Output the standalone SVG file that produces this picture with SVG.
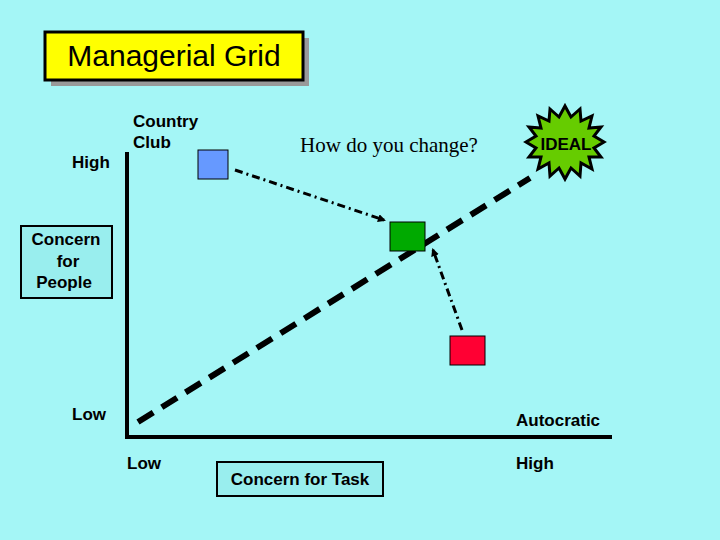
<svg xmlns="http://www.w3.org/2000/svg" width="720" height="540" viewBox="0 0 720 540">
<style>
.t{font-family:"Liberation Sans",Arial,sans-serif;font-weight:bold;font-size:17px;fill:#000}
.ar{stroke:#000;stroke-width:3;stroke-dasharray:8 4 2 4;fill:none;marker-end:url(#ah)}
</style>
<defs><marker id="ah" markerWidth="8" markerHeight="8" refX="6" refY="4" orient="auto" markerUnits="userSpaceOnUse"><path d="M0,0L8,4L0,8Z" fill="#000"/></marker></defs>
<rect width="720" height="540" fill="#a4f6f6"/>
<g id="title"><rect x="51" y="38" width="258" height="48" fill="#999"/><rect x="45" y="32" width="258" height="48" fill="#ffff00" stroke="#000" stroke-width="3"/><text x="174" y="66" text-anchor="middle" font-family="Liberation Sans,Arial,sans-serif" font-size="30">Managerial Grid</text></g>
<g id="axes" stroke="#000" stroke-width="4"><line x1="127" y1="152" x2="127" y2="439"/><line x1="125" y1="437" x2="612" y2="437"/></g>
<g id="labels">
<text class="t" x="72" y="168">High</text>
<text class="t" x="133" y="127">Country</text><text class="t" x="133" y="148">Club</text>
<text class="t" x="72" y="420">Low</text>
<text class="t" x="127" y="469">Low</text>
<text class="t" x="516" y="469">High</text>
<text class="t" x="516" y="426">Autocratic</text>
<text x="389" y="152" text-anchor="middle" font-family="Liberation Serif,Times New Roman,serif" font-size="21">How do you change?</text>
</g>
<g id="people"><rect x="21" y="226" width="91" height="72" fill="#99eeee" stroke="#000" stroke-width="2"/><text class="t" x="66" y="245" text-anchor="middle">Concern</text><text class="t" x="68" y="267" text-anchor="middle">for</text><text class="t" x="64" y="288" text-anchor="middle">People</text></g>
<g id="task"><rect x="217" y="462" width="166" height="34" fill="#99eeee" stroke="#000" stroke-width="2"/><text class="t" x="300" y="485" text-anchor="middle">Concern for Task</text></g>
<g id="connectors">
<line x1="138" y1="422" x2="530" y2="178" stroke="#000" stroke-width="6" stroke-dasharray="18 10"/>
<path class="ar" d="M235,170L384,220"/>
<path class="ar" d="M462,330L433,250"/>
</g>
<g id="blue"><rect x="198" y="150" width="30" height="29" fill="#6699ff" stroke="#000" stroke-width="1"/></g>
<g id="green"><rect x="390" y="222" width="35" height="29" fill="#00aa00" stroke="#000" stroke-width="1"/></g>
<g id="red"><rect x="450" y="336" width="35" height="29" fill="#ff0033" stroke="#000" stroke-width="1"/></g>
<g id="ideal"><polygon fill="#66cc00" stroke="#000" stroke-width="3" points="565,106 571,117 580,109 581,121 592,116 589,128 601,127 594,136 604,142 594,148 601,157 589,157 592,169 581,163 580,176 571,168 565,179 559,168 550,176 549,163 538,169 541,157 529,157 536,148 526,142 536,136 529,127 541,128 538,116 549,121 550,109 559,117"/><text class="t" x="566" y="150" text-anchor="middle">IDEAL</text></g>
</svg>
